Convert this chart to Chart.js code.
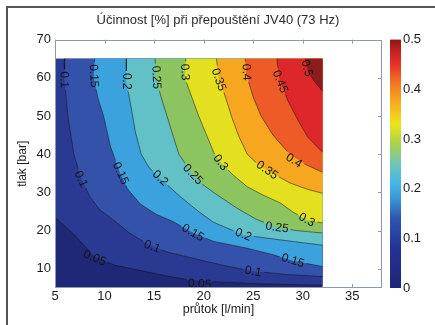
<!DOCTYPE html>
<html>
<head>
<meta charset="utf-8">
<script src="https://cdn.jsdelivr.net/npm/chart.js@4/dist/chart.umd.min.js"></script>
<style>
html, body { margin: 0; padding: 0; background: #fff; }
#wrap { position: relative; width: 435px; height: 325px; }
#frame { position: absolute; left: 6px; top: 6px; right: 0; bottom: 0; border-left: 2px solid #555; border-top: 2px solid #555; pointer-events: none; }
</style>
</head>
<body>
<div id="wrap"><canvas id="myChart" width="435" height="325"></canvas><div id="frame"></div></div>
<script>
// axis ticks
const xTicks = [5, 10, 15, 20, 25, 30, 35];
const yTicks = [10, 20, 30, 40, 50, 60, 70];
const cbTicks = [0, 0.1, 0.2, 0.3, 0.4, 0.5];

// measured area: průtok 5-32 l/min, tlak 5-65 bar
const flowRange = [5, 32];
const pressRange = [5, 65];

// contour levels and the lines, [průtok, tlak]
const levels = [0.05, 0.1, 0.15, 0.2, 0.25, 0.3, 0.35, 0.4, 0.45, 0.5];
const lvl005 = [[5, 23.5], [6.8, 19.3], [9, 13.2], [11, 11], [13.4, 9.7], [16, 8.3], [18.6, 7.1], [22, 6.5], [26, 6.1], [32, 5.7]];
const lvl010 = [[6.0, 65], [5.95, 60], [6.3, 50], [6.9, 40], [7.6, 34], [8.5, 29], [9.5, 25.5], [10.7, 23.2], [12.5, 19.4], [14.6, 16.1], [16.5, 14.3], [18.6, 13.0], [22, 10.9], [25, 9.4], [28.5, 8.5], [32, 8]];
const lvl015 = [[9.0, 65], [8.9, 60], [9.3, 55], [9.9, 50], [10.6, 42], [11.5, 35.5], [12.3, 31], [13.6, 27], [15.2, 24.3], [16.9, 22.4], [19, 19.3], [21, 17.2], [24.4, 15.4], [27, 13.7], [29, 12.1], [32, 10.6]];
const lvl020 = [[12.2, 65], [12.2, 59], [12.7, 52], [13.1, 46], [13.7, 40], [14.5, 36.5], [15.6, 33.7], [17.6, 29], [19.5, 25], [21, 22.2], [24, 18.9], [27.7, 17.6], [32, 16.2]];
const lvl025 = [[15.1, 65], [15.2, 60], [15.7, 55], [16.3, 50], [16.9, 45], [17.5, 40], [18.8, 35], [19.8, 32.3], [21, 30], [23.3, 26], [25.3, 23], [27.4, 20.8], [29.5, 20], [32, 19.4]];
const lvl030 = [[18.2, 65], [18.1, 60], [18.8, 55], [19.5, 50], [20.3, 45], [21.1, 40], [21.8, 37.6], [23, 34.5], [24.4, 31.5], [26, 29.3], [27.7, 27.3], [29, 24.9], [30.4, 22.8], [32, 22]];
const lvl035 = [[21.3, 65], [21.5, 60], [22.2, 55], [22.8, 50], [23.5, 45], [24.4, 40], [25.3, 37.8], [26.4, 35.8], [28.7, 32.5], [30.5, 30.8], [32, 29.8]];
const lvl040 = [[24.2, 65], [24.3, 61], [25, 55], [25.8, 50], [27, 45], [28.7, 40], [30.3, 37.3], [32, 35.3]];
const lvl045 = [[27.4, 65], [27.6, 60], [28.5, 54], [29.5, 49], [30.5, 44.5], [32, 40.5]];
const lvl050 = [[30.2, 65], [30.6, 61], [32, 56.5]];
const contourLines = [lvl005, lvl010, lvl015, lvl020, lvl025, lvl030, lvl035, lvl040, lvl045, lvl050];

// where the numbers sit on the lines: [level, průtok, tlak]
const labelSpots = [
    [0.05, 9, 12.8], [0.05, 19.6, 6.0],
    [0.1, 5.9, 59.5], [0.1, 7.6, 33.5], [0.1, 14.8, 15.8], [0.1, 25, 9.3],
    [0.15, 8.9, 60.5], [0.15, 11.6, 35], [0.15, 18.9, 19.4], [0.15, 29, 12.1],
    [0.2, 12.2, 59.1], [0.2, 15.6, 33.7], [0.2, 24, 18.9],
    [0.25, 15.2, 60.1], [0.25, 18.9, 34.7], [0.25, 27.4, 20.8],
    [0.3, 18.1, 61.5], [0.3, 21.7, 37.8], [0.3, 30.4, 22.8],
    [0.35, 21.5, 59.5], [0.35, 26.4, 35.8],
    [0.4, 24.3, 61.5], [0.4, 29.1, 38.3],
    [0.45, 27.7, 59],
    [0.5, 30.4, 62.5]
];

// colours of the filled bands, lowest first
const bandColors = ['#1f2777', '#2a3a93', '#3452a9', '#3ba2dd', '#62c1c6', '#8cc560', '#e4df1f', '#f6a61f', '#ef5b27', '#de272a', '#8d1c1c'];
const cbStops = [[0, '#1f2379'], [0.08, '#253396'], [0.14, '#2f55b0'], [0.18, '#3a96d8'], [0.21, '#45b6e6'], [0.25, '#6fc5b8'],
    [0.29, '#a8d24a'], [0.33, '#ece41c'], [0.37, '#f6b01e'], [0.41, '#f37a22'], [0.45, '#e6332a'], [0.48, '#c0201f'], [0.5, '#8a1818']];

const font = 'Liberation Sans, Arial, sans-serif';
const boxColor = '#8d9aab';
const textColor = '#1c1c1c';
const labelFont = '12px ' + font;

function toXY(pts) {
    return pts.map(p => ({x: p[0], y: p[1]}));
}

// close a contour into the region above it, going round the corners of the measured area
function closeBand(pts) {
    const out = toXY(pts);
    const first = pts[0], last = pts[pts.length - 1];
    if (last[1] === pressRange[0]) out.push({x: flowRange[1], y: pressRange[0]});
    out.push({x: flowRange[1], y: pressRange[1]});
    if (first[0] === flowRange[0]) out.push({x: flowRange[0], y: pressRange[1]});
    return out;
}

const datasets = [];
datasets.push({
    data: toXY([[flowRange[0], pressRange[0]], [flowRange[1], pressRange[0]], [flowRange[1], pressRange[1]], [flowRange[0], pressRange[1]]]),
    backgroundColor: bandColors[0], fill: 'shape', order: 100
});
contourLines.forEach((pts, i) => {
    datasets.push({data: closeBand(pts), backgroundColor: bandColors[i + 1], fill: 'shape', order: 99 - i});
});
contourLines.forEach((pts, i) => {
    datasets.push({data: toXY(pts), fill: false, borderColor: 'rgba(20,20,20,0.65)', borderWidth: 0.8, order: 0, contour: levels[i]});
});
datasets.forEach(d => {
    d.pointRadius = 0;
    d.tension = 0;
    d.xAxisID = 'x';
    d.yAxisID = 'y';
    if (d.fill) { d.borderColor = 'transparent'; d.borderWidth = 0; }
});

function labelGeometry(chart) {
    const xs = chart.scales.x, ys = chart.scales.y;
    const ctx = chart.ctx;
    ctx.save();
    ctx.font = labelFont;
    const out = labelSpots.map(([lv, x, y]) => {
        const px = xs.getPixelForValue(x), py = ys.getPixelForValue(y);
        const line = contourLines[levels.indexOf(lv)];
        let best = Infinity, ang = 0;
        for (let k = 0; k < line.length - 1; k++) {
            const ax = xs.getPixelForValue(line[k][0]), ay = ys.getPixelForValue(line[k][1]);
            const bx = xs.getPixelForValue(line[k + 1][0]), by = ys.getPixelForValue(line[k + 1][1]);
            const mx = (ax + bx) / 2, my = (ay + by) / 2;
            const d = (mx - px) ** 2 + (my - py) ** 2;
            if (d < best) { best = d; ang = Math.atan2(Math.abs(by - ay), Math.abs(bx - ax)); }
        }
        const text = String(lv);
        return {px, py, ang, text, w: ctx.measureText(text).width};
    });
    ctx.restore();
    return out;
}

const contourPlugin = {
    id: 'contourPlugin',
    beforeDatasetsDraw(chart) {
        // inward ticks, MATLAB style
        const {ctx, chartArea: a} = chart;
        const xs = chart.scales.x, ys = chart.scales.y;
        ctx.save();
        ctx.strokeStyle = boxColor;
        ctx.lineWidth = 1;
        ctx.beginPath();
        xTicks.forEach(v => {
            const p = Math.round(xs.getPixelForValue(v)) + 0.5;
            ctx.moveTo(p, a.bottom); ctx.lineTo(p, a.bottom - 4);
            ctx.moveTo(p, a.top); ctx.lineTo(p, a.top + 4);
        });
        yTicks.forEach(v => {
            const p = Math.round(ys.getPixelForValue(v)) + 0.5;
            ctx.moveTo(a.left, p); ctx.lineTo(a.left + 4, p);
            ctx.moveTo(a.right, p); ctx.lineTo(a.right - 4, p);
        });
        ctx.stroke();
        ctx.restore();
        chart.$labels = labelGeometry(chart);
    },
    beforeDatasetDraw(chart, args) {
        const ds = chart.data.datasets[args.index];
        if (ds.contour === undefined) return;
        // break the line where its numbers sit
        const ctx = chart.ctx;
        ctx.save();
        ctx.beginPath();
        ctx.rect(0, 0, chart.width, chart.height);
        chart.$labels.forEach(l => {
            const hw = l.w / 2 + 2, hh = 5;
            const c = Math.cos(l.ang), s = Math.sin(l.ang);
            const pts = [[-hw, -hh], [hw, -hh], [hw, hh], [-hw, hh]].map(([u, v]) => [l.px + u * c - v * s, l.py + u * s + v * c]);
            ctx.moveTo(pts[0][0], pts[0][1]);
            for (let k = 3; k >= 1; k--) ctx.lineTo(pts[k][0], pts[k][1]);
            ctx.closePath();
        });
        ctx.clip('evenodd');
    },
    afterDatasetDraw(chart, args) {
        const ds = chart.data.datasets[args.index];
        if (ds.contour === undefined) return;
        chart.ctx.restore();
    },
    afterDatasetsDraw(chart) {
        const {ctx, chartArea: a} = chart;
        // numbers on the contours
        ctx.save();
        ctx.beginPath();
        ctx.rect(a.left, a.top, a.right - a.left, a.bottom - a.top);
        ctx.clip();
        ctx.font = labelFont;
        ctx.fillStyle = '#151515';
        ctx.textAlign = 'center';
        ctx.textBaseline = 'middle';
        chart.$labels.forEach(l => {
            ctx.save();
            ctx.translate(l.px, l.py);
            ctx.rotate(l.ang);
            ctx.fillText(l.text, 0, 0);
            ctx.restore();
        });
        ctx.restore();
        // axes box
        ctx.save();
        ctx.strokeStyle = boxColor;
        ctx.lineWidth = 1;
        ctx.strokeRect(Math.round(a.left) + 0.5, Math.round(a.top) + 0.5, Math.round(a.right - a.left) - 1, Math.round(a.bottom - a.top) - 1);
        ctx.restore();
        // colour bar on its own scale
        const cb = chart.scales.cb;
        const top = cb.getPixelForValue(cbTicks[cbTicks.length - 1]);
        const bottom = cb.getPixelForValue(cbTicks[0]);
        const grad = ctx.createLinearGradient(0, bottom, 0, top);
        cbStops.forEach(([v, c]) => grad.addColorStop((bottom - cb.getPixelForValue(v)) / (bottom - top), c));
        ctx.save();
        ctx.fillStyle = grad;
        ctx.fillRect(a.right + 8, top, 11, bottom - top);
        ctx.restore();
    }
};

new Chart(document.getElementById('myChart'), {
    type: 'line',
    data: {datasets: datasets},
    options: {
        responsive: false,
        animation: false,
        events: [],
        layout: {padding: {left: 14, right: 13, top: 0, bottom: 6}},
        plugins: {
            legend: {display: false},
            tooltip: {enabled: false},
            title: {
                display: true,
                text: 'Účinnost [%] při přepouštění JV40 (73 Hz)',
                color: '#2a2a2a',
                font: {family: font, size: 13, weight: 'normal'},
                padding: {top: 13, bottom: 11}
            }
        },
        scales: {
            x: {
                type: 'linear', min: 5, max: 38,
                afterBuildTicks: s => { s.ticks = xTicks.map(v => ({value: v})); },
                afterFit: s => { s.height = 31; },
                grid: {display: false, drawTicks: false},
                border: {display: false},
                ticks: {color: textColor, font: {family: font, size: 13, lineHeight: 1}, padding: 2},
                title: {display: true, text: 'průtok [l/min]', color: textColor, font: {family: font, size: 12.5}, padding: {top: 1, bottom: 2}}
            },
            y: {
                type: 'linear', min: 5, max: 70,
                afterBuildTicks: s => { s.ticks = yTicks.map(v => ({value: v})); },
                afterFit: s => { s.width = 41; },
                grid: {display: false, drawTicks: false},
                border: {display: false},
                ticks: {color: textColor, font: {family: font, size: 13}, padding: 4},
                title: {display: true, text: 'tlak [bar]', color: textColor, font: {family: font, size: 12}, padding: {top: 1, bottom: 7}}
            },
            cb: {
                type: 'linear', axis: 'y', position: 'right', min: 0, max: 0.5,
                afterBuildTicks: s => { s.ticks = cbTicks.map(v => ({value: v})); },
                afterFit: s => { s.width = 40; },
                grid: {display: false, drawTicks: false},
                border: {display: false},
                ticks: {color: textColor, font: {family: font, size: 13}, padding: 21}
            }
        }
    },
    plugins: [contourPlugin]
});
</script>
</body>
</html>
